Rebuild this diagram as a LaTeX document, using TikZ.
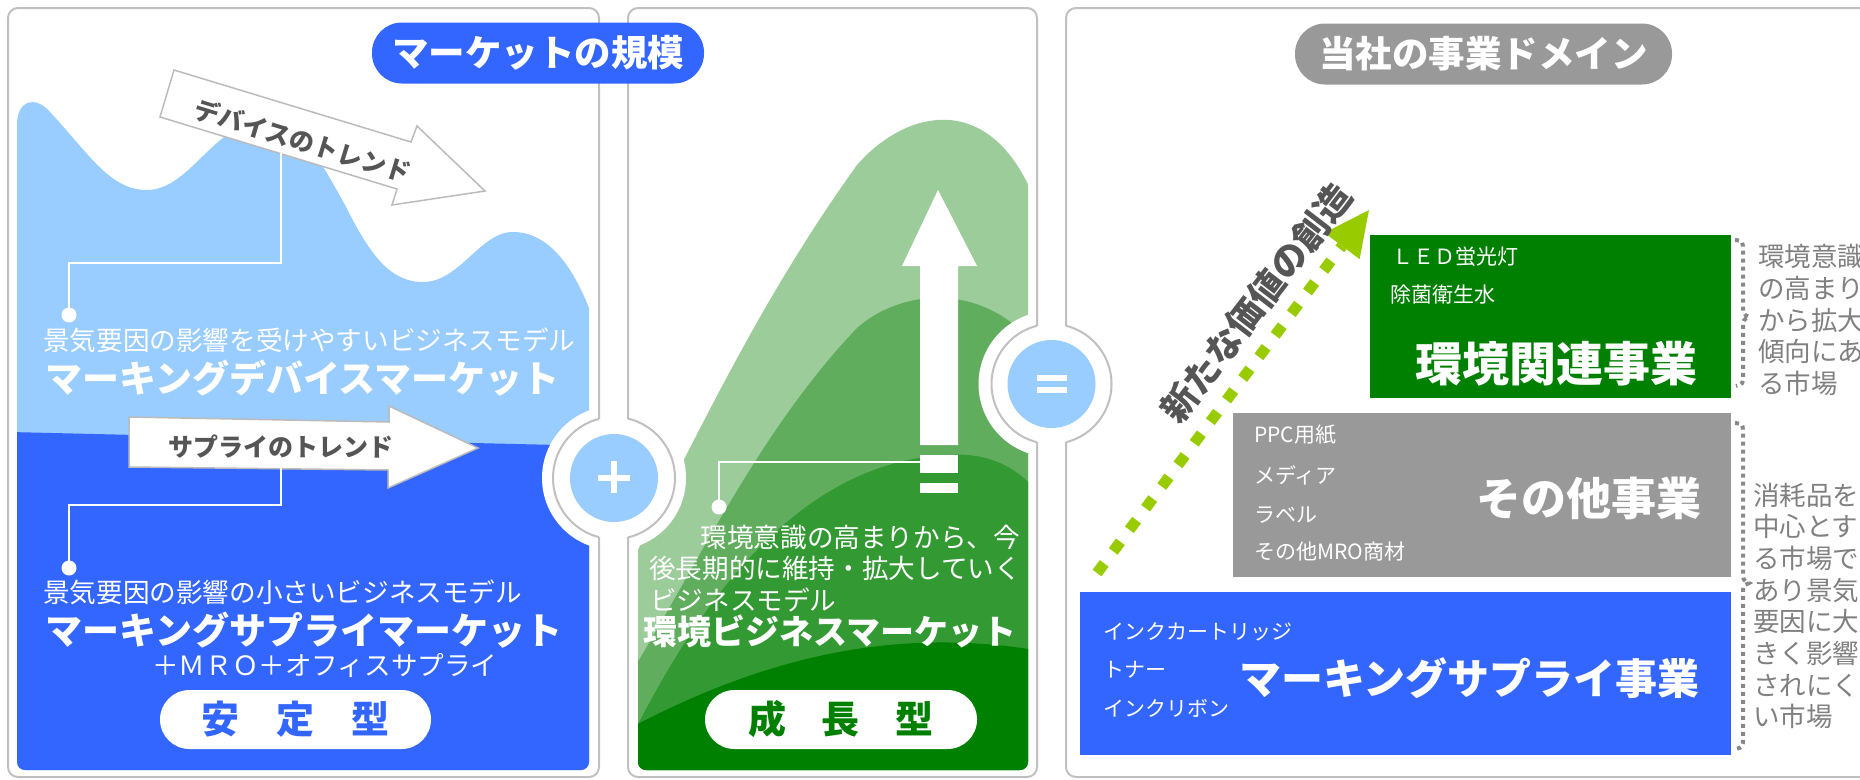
\documentclass[tikz,border=0pt]{standalone}
\usepackage{fontspec}
\setmainfont{Noto Sans CJK JP}
\newcommand\fsz[1]{\fontsize{#1}{#1}\selectfont}
\definecolor{mblue}{HTML}{3366FF}
\definecolor{lblue}{HTML}{99CCFF}
\definecolor{pgrey}{HTML}{999999}
\definecolor{bgrey}{HTML}{C0C0C0}
\definecolor{agrey}{HTML}{BBBBBB}
\definecolor{tgrey}{HTML}{555555}
\definecolor{rgrey}{HTML}{808080}
\definecolor{kgrey}{HTML}{888888}
\definecolor{dgreen}{HTML}{008000}
\definecolor{gone}{HTML}{9CCC9A}
\definecolor{gtwo}{HTML}{60AD5E}
\definecolor{gthree}{HTML}{339933}
\definecolor{agreen}{HTML}{99CC00}
\begin{document}
\begin{tikzpicture}[x=1pt,y=-1pt,
  border/.style={draw=bgrey,line width=2pt,rounded corners=10pt},
  ring/.style={draw=bgrey,line width=2pt},
  txt/.style={inner sep=0pt,anchor=west,text=white},
  small/.style={font=\fsz{26.6}},
  big/.style={font=\bfseries\fsz{37}},
  tiny/.style={txt,font=\fsz{21}},
  pill/.style={fill=white,rounded corners=29.5pt,minimum width=#1,minimum height=59pt,inner sep=0pt,font=\bfseries\fsz{38}},
  tpill/.style={rounded corners=30pt,minimum height=61pt,inner sep=0pt,text=white,font=\bfseries\fsz{36.5}},
  trend/.style={fill=white,draw=agrey,line width=1.5pt,line join=miter},
  callout/.style={draw=white,line width=2pt},
  dot/.style={circle,fill=white,inner sep=0pt,minimum size=15pt},
  brk/.style={draw=kgrey,line width=4pt,dash pattern=on 4pt off 4pt},
  side/.style={inner sep=0pt,anchor=west,align=left,text=rgrey,font=\fontsize{26.5}{31.7}\selectfont}
]
\useasboundingbox (0,0) rectangle (1860,779);

% ---------- left panel fill ----------
\begin{scope}
\clip[rounded corners=8pt] (17,-20) rectangle (589,770);
\fill[lblue] (17,800) -- (17,125) .. controls (17,100) and (35,95) .. (50,112)
  .. controls (90,155) and (110,190) .. (147,190)
  .. controls (190,190) and (215,122) .. (262,122)
  .. controls (300,122) and (320,160) .. (345,205)
  .. controls (370,255) and (390,282) .. (423,282)
  .. controls (460,282) and (480,232) .. (513,232)
  .. controls (555,232) and (582,280) .. (600,340) -- (600,800) -- cycle;
\fill[mblue] (10,432) -- (600,446) -- (600,800) -- (10,800) -- cycle;
\end{scope}

% ---------- middle panel fill ----------
\begin{scope}
\clip[rounded corners=8pt] (638,-20) rectangle (1028,770);
\fill[gone] (625,575) .. controls (700,430) and (760,300) .. (857,165)
  .. controls (905,110) and (990,88) .. (1035,200) -- (1035,800) -- (625,800) -- cycle;
\fill[gtwo] (630,675) .. controls (700,560) and (760,430) .. (857,328)
  .. controls (900,290) and (980,280) .. (1035,345) -- (1035,800) -- (630,800) -- cycle;
\fill[gthree] (630,740) .. controls (700,600) and (800,460) .. (950,455)
  .. controls (990,452) and (1020,470) .. (1035,490) -- (1035,800) -- (630,800) -- cycle;
\fill[dgreen] (630,728) .. controls (750,665) and (880,625) .. (1035,650) -- (1035,800) -- (630,800) -- cycle;
\end{scope}

% ---------- circles (white cut) ----------
\fill[white] (614,478) circle (72);
\fill[white] (1051.5,384) circle (73);

% ---------- panel borders ----------
\draw[border] (599,419) -- (599,8) -- (8,8) -- (8,777) -- (599,777) -- (599,537);
\draw[border] (628,419) -- (628,8) -- (1037,8) -- (1037,326);
\draw[border] (1037,442) -- (1037,777) -- (628,777) -- (628,537);
\draw[border] (1066,326) -- (1066,8) -- (1900,8);
\draw[border] (1066,442) -- (1066,777) -- (1900,777);
\begin{scope}
\clip (0,0) rectangle (599,779);
\draw[ring] (614,478) circle (61);
\end{scope}
\begin{scope}
\clip (628,0) rectangle (1037,779);
\draw[ring] (614,478) circle (61);
\draw[ring] (1051.5,384) circle (60);
\end{scope}
\begin{scope}
\clip (1066,0) rectangle (1900,779);
\draw[ring] (1051.5,384) circle (60);
\end{scope}
\fill[lblue] (614,478) circle (44);
\fill[lblue] (1051.5,384) circle (44);
\fill[white] (598,475) rectangle (630,481);
\fill[white] (611,461) rectangle (617,493);
\fill[white] (1037,375) rectangle (1067,381);
\fill[white] (1037,387) rectangle (1067,393);

% ---------- title pills ----------
\node[tpill,fill=mblue,minimum width=332pt] (title1) at (538,53) {マーケットの規模};
\node[tpill,fill=pgrey,minimum width=377pt] (title2) at (1483.5,54) {当社の事業ドメイン};

% ---------- left panel content ----------
\draw[trend] (174,70) -- (411,142) -- (417,126) -- (485,191) -- (392,205) -- (397,189) -- (160,117) -- cycle;
\node[font=\bfseries\fsz{25},text=tgrey,rotate=-17,inner sep=0pt] (devtrend) at (303,141) {デバイスのトレンド};
\coordinate (devfoot) at (281,153);
\node[dot] (dot1) at (69,315) {};
\draw[callout] (devfoot) -- (281,263) -| (dot1.center);
\node[txt,small] (t1) at (43,340) {景気要因の影響を受けやすいビジネスモデル};
\node[txt,big] (t2) at (45,378) {マーキングデバイスマーケット};

\draw[trend] (129,417) -- (389,422) -- (389,406) -- (478,448) -- (388,488) -- (388,470) -- (129,467) -- cycle;
\node[font=\bfseries\fsz{25},text=tgrey,inner sep=0pt] (suptrend) at (281,447) {サプライのトレンド};
\coordinate (supfoot) at (281,468);
\node[dot] (dot2) at (69,568) {};
\draw[callout] (supfoot) -- (281,505) -| (dot2.center);
\node[txt,small] (t3) at (43,592) {景気要因の影響の小さいビジネスモデル};
\node[txt,big] (t4) at (45,630) {マーキングサプライマーケット};
\node[txt,small] (t5) at (152,665) {＋ＭＲＯ＋オフィスサプライ};
\node[pill=271pt,text=mblue] (stable) at (295.5,719.5) {安\hspace{37pt}定\hspace{37pt}型};

% ---------- middle panel content ----------
\fill[white] (938,190) -- (977,266) -- (958,266) -- (958,445) -- (920,445) -- (920,266) -- (902,266) -- cycle;
\fill[white] (920,455) rectangle (958,473);
\fill[white] (920,483) rectangle (958,493);
\coordinate (upbar) at (920,462);
\node[dot] (dot3) at (719,507) {};
\draw[callout] (upbar) -| (dot3.center);
\node[txt,small,anchor=east] (m1) at (1020,537) {環境意識の高まりから、今};
\node[txt,small] (m2) at (649,568) {後長期的に維持・拡大していく};
\node[txt,small] (m3) at (650,600) {ビジネスモデル};
\node[txt,font=\bfseries\fsz{34}] (m4) at (643,631) {環境ビジネスマーケット};
\node[pill=272pt,text=dgreen] (growth) at (841,719.5) {成\hspace{35pt}長\hspace{37pt}型};

% ---------- right panel content ----------
\fill[dgreen] (1370,235) rectangle (1731,398);
\fill[pgrey] (1233,413) rectangle (1731,577);
\fill[mblue] (1080,592) rectangle (1731,755);

\node[tiny] (led) at (1392,257) {ＬＥＤ蛍光灯};
\node[tiny] (jokin) at (1390,295) {除菌衛生水};
\node[txt,font=\bfseries\fsz{47}] (env) at (1415,364) {環境関連事業};

\node[tiny] (ppc) at (1254,435) {PPC用紙};
\node[tiny] (media) at (1254,475) {メディア};
\node[tiny] (label) at (1254,515) {ラベル};
\node[tiny] (mro) at (1254,552) {その他MRO商材};
\node[txt,font=\bfseries\fsz{45}] (other) at (1476,498) {その他事業};

\node[tiny] (ink) at (1103,632) {インクカートリッジ};
\node[tiny] (toner) at (1103,670) {トナー};
\node[tiny] (ribbon) at (1103,708) {インクリボン};
\node[txt,font=\bfseries\fsz{42}] (supply) at (1239,678) {マーキングサプライ事業};

\draw[brk] (1735,240) .. controls (1743,241) .. (1743,252) -- (1743,306) .. controls (1743,314) .. (1749,317) .. controls (1743,320) .. (1743,328) -- (1743,375) .. controls (1743,384) .. (1736,386);
\draw[brk] (1735,423) .. controls (1743,424) .. (1743,436) -- (1743,572) .. controls (1743,580) .. (1749,583) .. controls (1743,586) .. (1743,594) -- (1743,738) .. controls (1743,747) .. (1736,749);
\node[side] (note1) at (1758,320) {環境意識\\の高まり\\から拡大\\傾向にあ\\る市場};
\node[side] (note2) at (1753,606) {消耗品を\\中心とす\\る市場で\\あり景気\\要因に大\\きく影響\\されにく\\い市場};

\coordinate (gstart) at (1097,573);
\coordinate (gbase) at (1342,246);
\coordinate (gtip) at (1369,210);
\draw[agreen,line width=11pt,dash pattern=on 12pt off 15pt] (gstart) -- (gbase);
\fill[agreen] (gtip) -- (1359.6,259.2) -- (1324.4,232.8) -- cycle;
\node[font=\bfseries\fsz{36},text=tgrey,rotate=52.5,inner sep=0pt] (newvalue) at (1256,303) {新たな価値の創造};
\end{tikzpicture}
\end{document}
